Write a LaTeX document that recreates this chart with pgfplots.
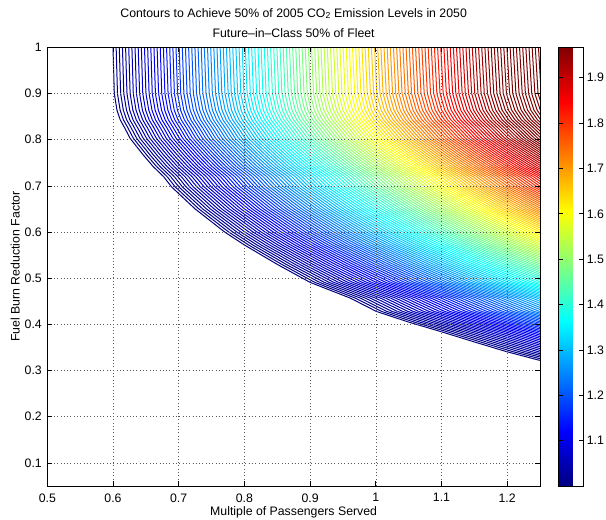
\documentclass[border=0pt]{standalone}
\usepackage{fontspec}
\setmainfont{Liberation Sans}
\usepackage{pgfplots}
\pgfplotsset{compat=1.18}
\usepackage{pgfplotstable}

% level-1.0 contour (outermost curve), y then x
\pgfplotstableread{
y x
1.000 0.600
0.900 0.602
0.864 0.606
0.843 0.611
0.825 0.618
0.803 0.626
0.785 0.636
0.767 0.646
0.742 0.661
0.720 0.677
0.698 0.689
0.650 0.725
0.600 0.770
0.572 0.800
0.530 0.850
0.491 0.900
0.457 0.961
0.428 1.001
0.405 1.050
0.384 1.100
0.362 1.150
0.341 1.199
0.323 1.247
0.300 1.330
}\basecurve

\pgfplotsset{/pgf/number format/assume math mode=true}

\begin{document}
\begin{tikzpicture}[font=\fontsize{12.3bp}{14bp}\selectfont]
\useasboundingbox (-47.3bp,-34bp) rectangle (558.7bp,486bp);
\begin{axis}[
    scale only axis,
    width=492.7bp, height=438.7bp,
    xmin=0.5, xmax=1.25, ymin=0.05, ymax=1,
    xtick={0.5,0.6,0.7,0.8,0.9,1,1.1,1.2},
    ytick={0.1,0.2,0.3,0.4,0.5,0.6,0.7,0.8,0.9,1},
    xticklabel style={yshift=-4bp},
    yticklabel style={xshift=-2bp},
    grid=major,
    grid style={black!65, line width=0.5bp, dash pattern=on 0.7bp off 2.6bp},
    axis on top,
    axis line style={line width=0.8bp},
    tick style={black, line width=0.6bp},
    major tick length=5bp,
    tick align=inside,
    title={Contours to Achieve 50\% of 2005 CO\textsubscript{2} Emission Levels in 2050\\Future–in–Class 50\% of Fleet},
    title style={at={(axis description cs:0.5,1)}, anchor=south, inner sep=0pt, yshift=4bp,
        align=center, font=\fontsize{12.3bp}{20bp}\selectfont},
    xlabel={Multiple of Passengers Served},
    xlabel style={at={(axis description cs:0.5,0)}, anchor=base, yshift=-29bp},
    ylabel={Fuel Burn Reduction Factor},
    ylabel style={at={(axis description cs:-0.065,0.5)}, anchor=center},
    colormap/jet,
    point meta min=1.0, point meta max=1.967,
    colorbar,
    colorbar shift/.style={xshift=18.7bp},
    colorbar style={
        at={(parent axis.north east)}, anchor=north west,
        scale only axis, width=24.6bp, height=438.7bp,
        ytick={1.1,1.2,1.3,1.4,1.5,1.6,1.7,1.8,1.9},
        ytick pos=both, yticklabel pos=right, tick align=inside,
        major tick length=4bp,
        axis line style={line width=0.8bp},
        tick style={black, line width=0.6bp},
    },
]
\pgfplotsinvokeforeach{1.000,1.008,...,2.090}{
    \addplot[mesh, line width=1bp, point meta=#1]
        table[x expr=#1*\thisrow{x}, y=y] {\basecurve};
}
\end{axis}
\end{tikzpicture}
\end{document}
